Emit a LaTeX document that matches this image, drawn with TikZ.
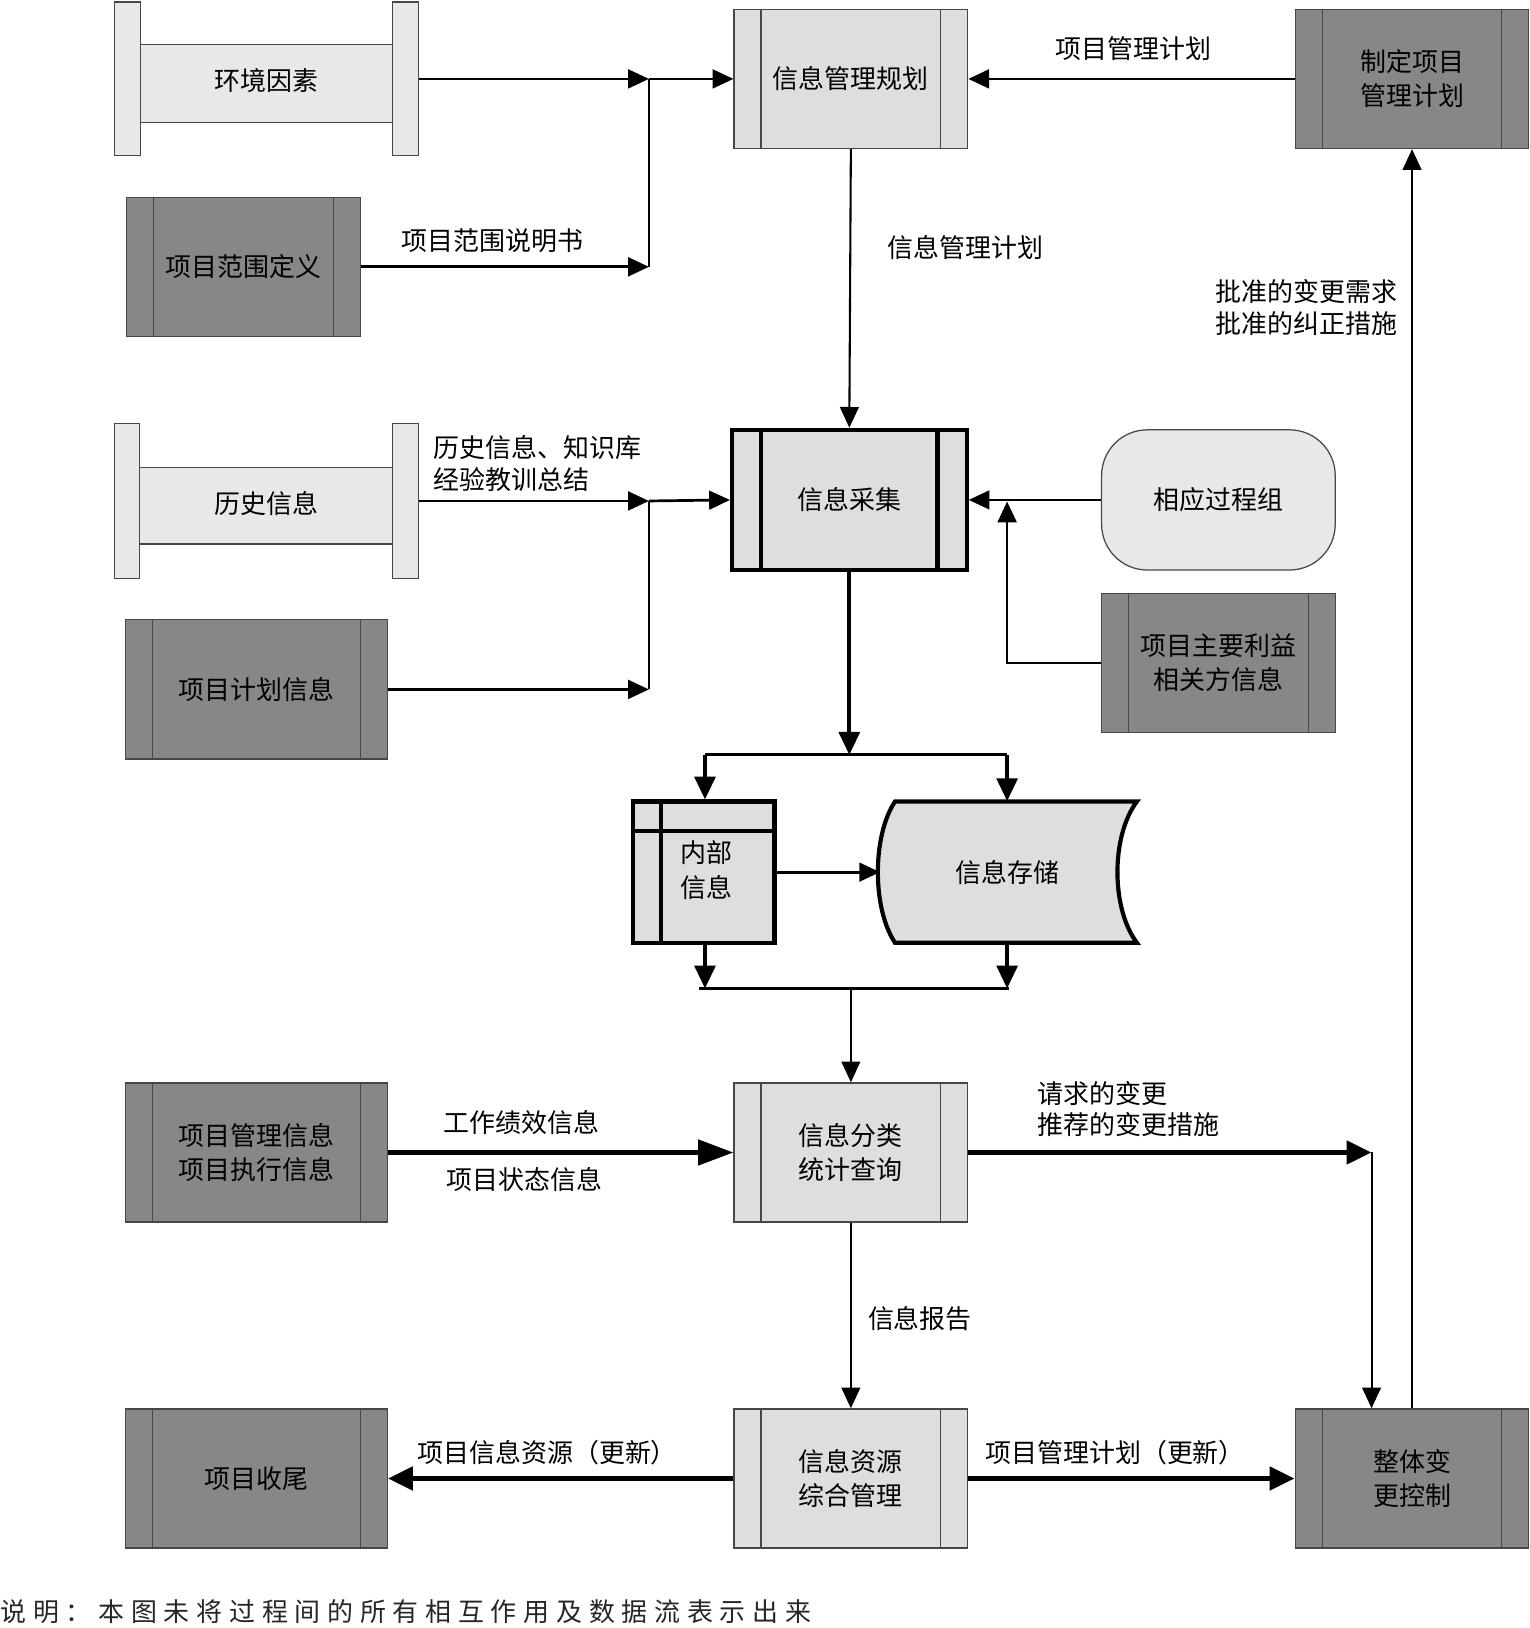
\documentclass[tikz,border=0pt]{standalone}
\usepackage{fontspec}
\setmainfont{Noto Sans CJK SC}
\usetikzlibrary{arrows.meta}
\definecolor{lightA}{gray}{0.87}
\definecolor{lightB}{gray}{0.91}
\definecolor{darkA}{gray}{0.53}
\definecolor{edgeA}{gray}{0.28}
\begin{document}
\begin{tikzpicture}[x=0.5pt,y=-0.5pt,
  every node/.style={font=\fontsize{12.5}{16.5}\selectfont, align=center, inner sep=0pt},
  box/.style={draw=edgeA, line width=0.6pt, minimum height=67pt, minimum width=112.5pt},
  proc/.style={box, fill=#1, path picture={
     \draw[edgeA, line width=0.6pt]
       ([xshift=13pt]path picture bounding box.north west) -- ([xshift=13pt]path picture bounding box.south west)
       ([xshift=-13pt]path picture bounding box.north east) -- ([xshift=-13pt]path picture bounding box.south east);}},
  wide/.style={minimum width=126pt},
  bold/.style={draw=black, line width=2pt, fill=lightA, minimum height=67.5pt, minimum width=113pt, path picture={
     \draw[black, line width=2pt]
       ([xshift=14pt]path picture bounding box.north west) -- ([xshift=14pt]path picture bounding box.south west)
       ([xshift=-14pt]path picture bounding box.north east) -- ([xshift=-14pt]path picture bounding box.south east);}},
  ghost/.style={minimum width=146.5pt, minimum height=74pt},
  conn/.style={line width=1.3pt, -{Triangle[length=10pt,width=9pt]}},
  thinconn/.style={line width=1pt, -{Triangle[length=10pt,width=9pt]}},
  heavy/.style={line width=2.4pt, -{Triangle[length=12pt,width=11pt]}},
  heavybig/.style={line width=2.4pt, -{Triangle[length=17pt,width=12pt]}},
  plain/.style={line width=1.3pt},
  lbl/.style={}
]
\useasboundingbox (0,0) rectangle (1473,1568);

% ---------- data-shape inputs ----------
\node[ghost] (env) at (256.5,76) {};
\draw[edgeA, line width=0.6pt, fill=lightB] (135,43) rectangle (378,118);
\draw[edgeA, line width=0.6pt, fill=lightB] (110,2) rectangle (135,150);
\draw[edgeA, line width=0.6pt, fill=lightB] (378,2) rectangle (403,150);
\node at (256.5,78) {环境因素};

\node[ghost] (hist) at (256.5,482.5) {};
\draw[edgeA, line width=0.6pt, fill=lightB] (134,450) rectangle (378,524);
\draw[edgeA, line width=0.6pt, fill=lightB] (110,408) rectangle (134,557);
\draw[edgeA, line width=0.6pt, fill=lightB] (378,408) rectangle (403,557);
\node at (256.5,485) {历史信息};

% ---------- process boxes ----------
\node[proc=lightA] (plan) at (819.5,76) {信息管理规划};
\node[proc=darkA] (mkplan) at (1360,76) {制定项目\\管理计划};
\node[proc=darkA] (scope) at (234.5,257) {项目范围定义};
\node[proc=darkA, wide] (pinfo) at (247,664) {项目计划信息};
\node[bold] (collect) at (818,481.5) {信息采集};
\node[draw=edgeA, line width=0.6pt, fill=lightB, rounded corners=22pt, minimum width=112.5pt, minimum height=67.5pt] (group) at (1173.5,481.5) {相应过程组};
\node[proc=darkA] (stake) at (1173.5,638.5) {项目主要利益\\相关方信息};
\node[proc=darkA, wide] (mgmt) at (247,1110) {项目管理信息\\项目执行信息};
\node[proc=lightA] (classify) at (819.5,1110) {信息分类\\统计查询};
\node[proc=darkA, wide] (close) at (247,1424) {项目收尾};
\node[proc=lightA] (resource) at (819.5,1424) {信息资源\\综合管理};
\node[proc=darkA] (integ) at (1360,1424) {整体变\\更控制};

% internal storage
\node[draw=black, line width=2pt, fill=lightA, minimum width=68pt, minimum height=68pt] (internal) at (678,840) {};
\draw[black, line width=2pt] (637,772) -- (637,908) (610,800) -- (746,800);
\node at (680,838) {内部\\信息};

% stored data
\node[minimum width=123.5pt, minimum height=68pt] (store) at (971.5,840) {};
\draw[black, line width=2pt, fill=lightA] (862,772) -- (1095,772)
  .. controls (1070,805) and (1070,875) .. (1095,908) -- (862,908)
  .. controls (840,875) and (840,805) .. (862,772) -- cycle;
\node at (970,840) {信息存储};

% ---------- junction coordinates ----------
\coordinate (j1) at (625,76);
\coordinate (j2) at (625,257);
\coordinate (j3) at (625,482.5);
\coordinate (j4) at (625,664);
\coordinate (j5) at (970,483);
\coordinate (s1) at (818,727);
\coordinate (sL) at (679,727);
\coordinate (sR) at (970,727);
\coordinate (m1) at (679,952);
\coordinate (m2) at (970,952);
\coordinate (mc) at (819.5,952);
\coordinate (r1) at (1321,1110);

% ---------- connectors ----------
\draw[conn] (env.east) -- (j1);
\draw[conn] (scope.east) -- (j2);
\draw[plain] (j2) -- (j1);
\draw[conn] (j1) -- (plan.west);
\draw[conn] (mkplan.west) -- (plan.east);
\draw[thinconn] (plan.south) -- (collect.north);

\draw[conn] (hist.east) -- (j3);
\draw[conn] (pinfo.east) -- (j4);
\draw[plain] (j4) -- (j3);
\draw[conn] (j3) -- (collect.west);
\draw[conn] (group.west) -- (collect.east);
\draw[conn] (stake.west) -| (j5);

\draw[line width=1.8pt, -{Triangle[length=11pt,width=10pt]}] (collect.south) -- (s1);
\draw[plain, line width=1.6pt] (sL) -- (sR);
\draw[line width=1.8pt, -{Triangle[length=11pt,width=10pt]}] (sL) -- (sL |- internal.north);
\draw[line width=1.8pt, -{Triangle[length=11pt,width=10pt]}] (sR) -- (sR |- store.north);
\draw[conn] (internal.east) -- (store.west);
\draw[line width=1.8pt, -{Triangle[length=11pt,width=10pt]}] (m1 |- internal.south) -- (m1);
\draw[line width=1.8pt, -{Triangle[length=11pt,width=10pt]}] (m2 |- store.south) -- (m2);
\draw[line width=1.6pt] ([xshift=-3pt]m1) -- ([xshift=1pt]m2);
\draw[thinconn] (mc) -- (classify.north);

\draw[heavybig] (mgmt.east) -- (classify.west);
\draw[heavy] (classify.east) -- (r1);
\draw[thinconn] (r1) -- (r1 |- integ.north);
\draw[thinconn] (classify.south) -- (resource.north);
\draw[heavy] (resource.west) -- (close.east);
\draw[heavy] (resource.east) -- (integ.west);
\draw[thinconn] (integ.north) -- (mkplan.south);

% ---------- labels ----------
\node[lbl] (l1) at (1092,47) {项目管理计划};
\node[lbl] (l2) at (474,232) {项目范围说明书};
\node[lbl] (l3) at (930,238) {信息管理计划};
\node[lbl, align=center, font=\fontsize{12.5}{15.5}\selectfont] (l4) at (1258,296.5) {批准的变更需求\\批准的纠正措施};
\node[lbl, anchor=west, align=left, font=\fontsize{12.5}{15.5}\selectfont] (l5) at (417,446.5) {历史信息、知识库\\经验教训总结};
\node[lbl] (l6) at (502,1081) {工作绩效信息};
\node[lbl] (l7) at (505,1136) {项目状态信息};
\node[lbl, anchor=west, align=left, font=\fontsize{12.5}{15}\selectfont] (l8) at (999,1068) {请求的变更\\推荐的变更措施};
\node[lbl] (l9) at (886,1270) {信息报告};
\node[lbl] (l10) at (527,1399) {项目信息资源（更新）};
\node[lbl] (l11) at (1074,1399) {项目管理计划（更新）};

% ---------- footnote ----------
\node[anchor=west, font=\fontsize{12.5}{15}\selectfont\addfontfeature{LetterSpace=26}, text=black!85] (note) at (0,1552) {说明：本图未将过程间的所有相互作用及数据流表示出来};
\end{tikzpicture}
\end{document}
